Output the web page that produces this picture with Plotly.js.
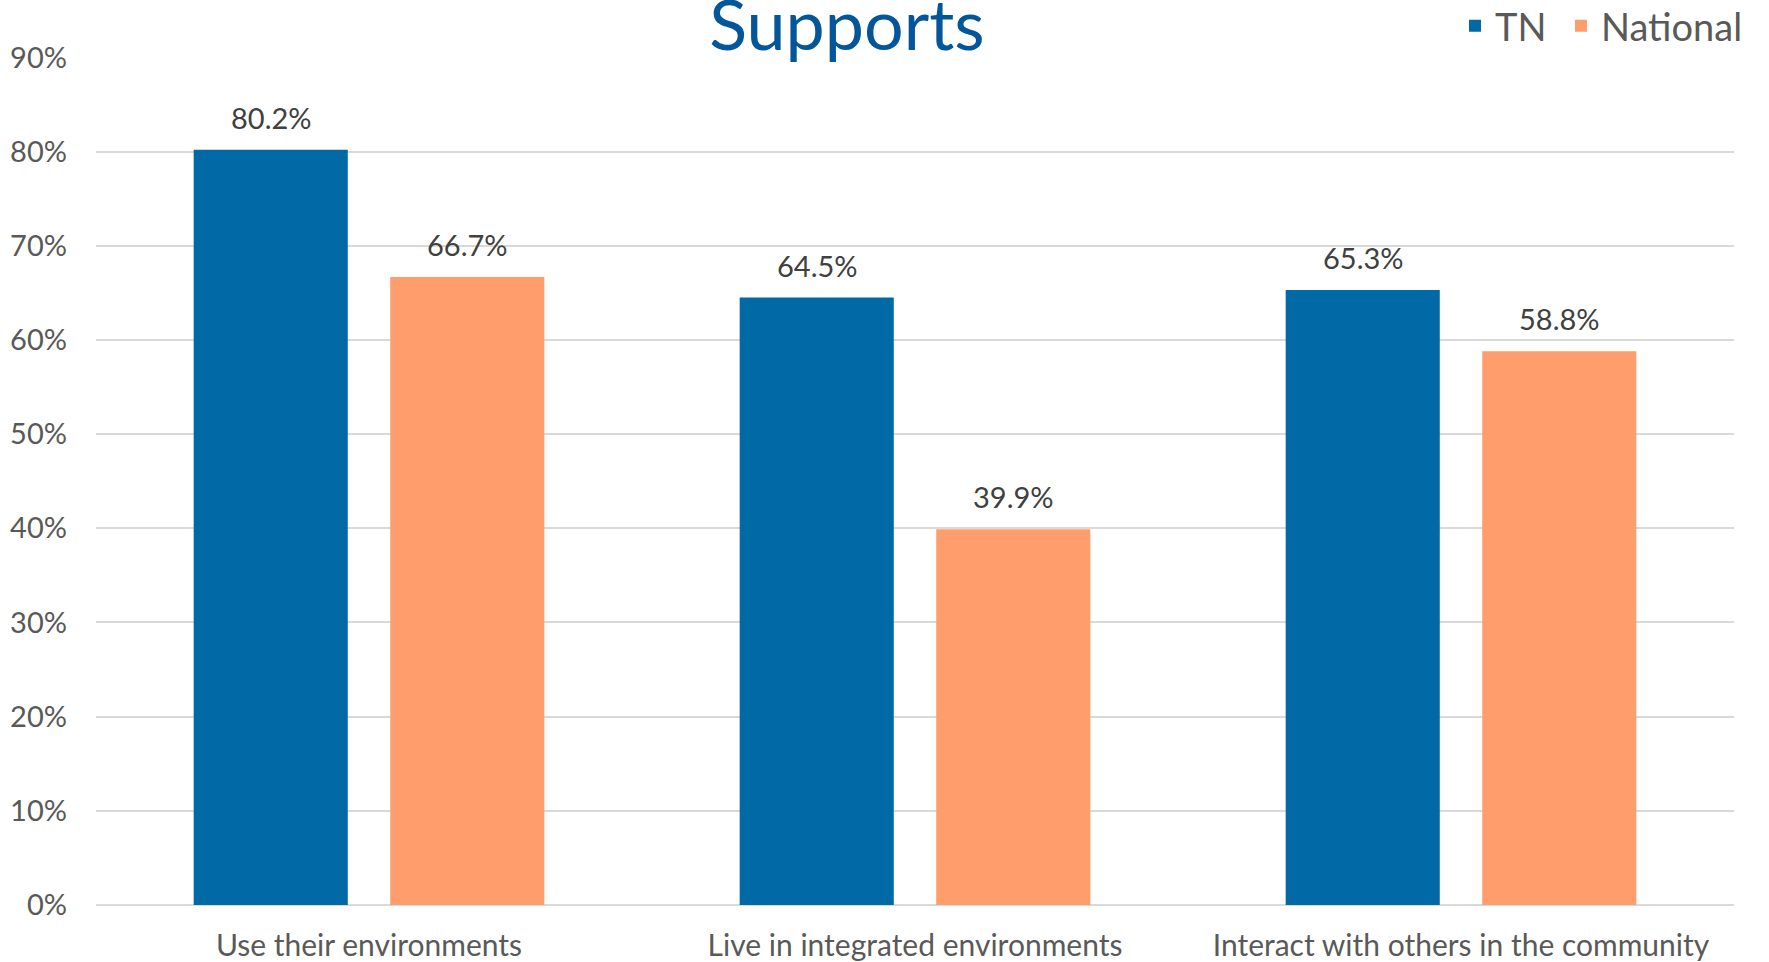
<!DOCTYPE html>
<html>
<head>
<meta charset="utf-8">
<script src="https://cdn.plot.ly/plotly-3.0.1.min.js"></script>
<style>html,body{margin:0;padding:0;background:#fff;}#chart{width:1769px;height:962px;}</style>
</head>
<body>
<div id="chart"></div>
<script>
const categories = ["Use their environments", "Live in integrated environments", "Interact with others in the community"];
const seriesNames = ["TN", "National"];
const tnValues = [0.802, 0.645, 0.653];
const nationalValues = [0.667, 0.399, 0.588];
const yTickValues = [0, 0.1, 0.2, 0.3, 0.4, 0.5, 0.6, 0.7, 0.8, 0.9];
const colors = ["#0069A6", "#FF9D6C"];

const FONT = "Lato, 'Open Sans', sans-serif";

const traces = [
  {type: "bar", name: seriesNames[0], x: categories, y: tnValues, marker: {color: colors[0]}, hoverinfo: "y", legendwidth: 61},
  {type: "bar", name: seriesNames[1], x: categories, y: nationalValues, marker: {color: colors[1]}, hoverinfo: "y", legendwidth: 150}
];

const annotations = [];
[tnValues, nationalValues].forEach((vals, s) => {
  vals.forEach((v, i) => {
    annotations.push({
      x: categories[i], y: v, xref: "x", yref: "y",
      text: (v * 100).toFixed(1) + "%",
      showarrow: false, xanchor: "center", yanchor: "bottom",
      xshift: s === 0 ? -98 : 98, yshift: 13,
      font: {family: FONT, size: 29, color: "#404040"}
    });
  });
});

const layout = {
  width: 1769, height: 962,
  paper_bgcolor: "#fff", plot_bgcolor: "#fff",
  margin: {l: 96, r: 35, t: 57, b: 57},
  barmode: "group", bargap: 0.28, bargroupgap: 0.216,
  title: {text: "Supports", xref: "container", x: 0.4788, xanchor: "center",
          yref: "container", y: 0.973, yanchor: "middle", automargin: false,
          font: {family: FONT, size: 70, color: "#03569A"}},
  showlegend: true,
  legend: {orientation: "h", xref: "container", yref: "container", x: 0.8225, xanchor: "left", y: 0.973, yanchor: "middle",
           font: {family: FONT, size: 38, color: "#595959"}, bgcolor: "rgba(0,0,0,0)", traceorder: "normal"},
  xaxis: {type: "category", showgrid: false, showline: false, zeroline: false, ticks: "",
          tickfont: {family: FONT, size: 30, color: "#595959"}, ticklabelstandoff: 20, automargin: false},
  yaxis: {range: [0, 0.9], tickvals: yTickValues, tickformat: ".0%", showgrid: true, gridcolor: "#D9D9D9", gridwidth: 2,
          zeroline: true, zerolinecolor: "#D9D9D9", zerolinewidth: 2, showline: false, ticks: "",
          tickfont: {family: FONT, size: 29, color: "#595959"}, ticklabelstandoff: 28, automargin: false},
  annotations: annotations
};

Plotly.newPlot("chart", traces, layout, {displayModeBar: false, staticPlot: true});
</script>
</body>
</html>
